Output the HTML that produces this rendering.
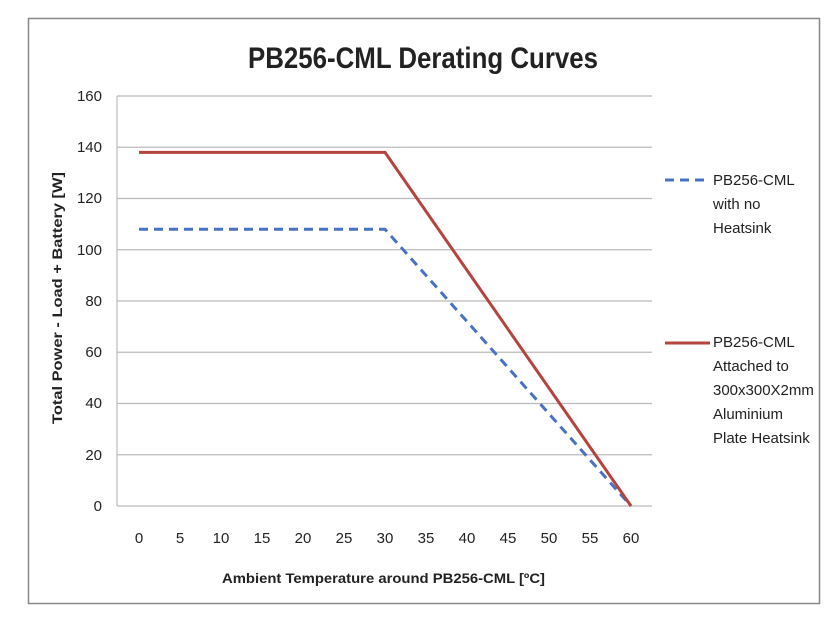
<!DOCTYPE html>
<html><head><style>
body{margin:0;background:#fff;}
svg text{font-family:"Liberation Sans Narrow","Liberation Sans",sans-serif;fill:#222;}
</style></head><body>
<svg width="838" height="624" xmlns="http://www.w3.org/2000/svg">
<rect x="28.5" y="18.5" width="791" height="585" fill="#fff" stroke="#888" stroke-width="1.5"/>
<text x="248" y="68" textLength="350" lengthAdjust="spacingAndGlyphs" font-size="30" font-weight="bold" fill="#111">PB256-CML Derating Curves</text>
<g stroke="#bbb" stroke-width="1.2">
<line x1="117" y1="96" x2="652" y2="96"/>
<line x1="117" y1="147.25" x2="652" y2="147.25"/>
<line x1="117" y1="198.5" x2="652" y2="198.5"/>
<line x1="117" y1="249.75" x2="652" y2="249.75"/>
<line x1="117" y1="301" x2="652" y2="301"/>
<line x1="117" y1="352.25" x2="652" y2="352.25"/>
<line x1="117" y1="403.5" x2="652" y2="403.5"/>
<line x1="117" y1="454.75" x2="652" y2="454.75"/>
<line x1="117" y1="506" x2="652" y2="506"/>
<line x1="117" y1="96" x2="117" y2="506"/>
</g>
<g font-size="15" text-anchor="end">
<text x="102" y="101">160</text><text x="102" y="152">140</text><text x="102" y="203">120</text>
<text x="102" y="255">100</text><text x="102" y="306">80</text><text x="102" y="357">60</text>
<text x="102" y="408">40</text><text x="102" y="460">20</text><text x="102" y="511">0</text>
</g>
<g font-size="15" text-anchor="middle">
<text x="139" y="543">0</text><text x="180" y="543">5</text><text x="221" y="543">10</text>
<text x="262" y="543">15</text><text x="303" y="543">20</text><text x="344" y="543">25</text>
<text x="385" y="543">30</text><text x="426" y="543">35</text><text x="467" y="543">40</text>
<text x="508" y="543">45</text><text x="549" y="543">50</text><text x="590" y="543">55</text>
<text x="631" y="543">60</text>
</g>
<text x="222" y="583" textLength="323" lengthAdjust="spacingAndGlyphs" font-size="14" font-weight="bold">Ambient Temperature around PB256-CML [ºC]</text>
<text transform="translate(62,424) rotate(-90)" textLength="252" lengthAdjust="spacingAndGlyphs" font-size="14" font-weight="bold">Total Power - Load + Battery [W]</text>
<polyline points="139,229.25 385,229.25 631,506" fill="none" stroke="#4a72c4" stroke-width="3" stroke-dasharray="9,6"/>
<polyline points="139,152.4 385,152.4 631,506" fill="none" stroke="#b5443f" stroke-width="3"/>
<line x1="665" y1="180" x2="710" y2="180" stroke="#4a72c4" stroke-width="3" stroke-dasharray="9,6"/>
<g font-size="15">
<text x="713" y="185">PB256-CML</text><text x="713" y="209">with no</text><text x="713" y="233">Heatsink</text>
</g>
<line x1="665" y1="343" x2="710" y2="343" stroke="#b5443f" stroke-width="3"/>
<g font-size="15">
<text x="713" y="347">PB256-CML</text><text x="713" y="371">Attached to</text><text x="713" y="395">300x300X2mm</text>
<text x="713" y="419">Aluminium</text><text x="713" y="443">Plate Heatsink</text>
</g>
</svg>
</body></html>
